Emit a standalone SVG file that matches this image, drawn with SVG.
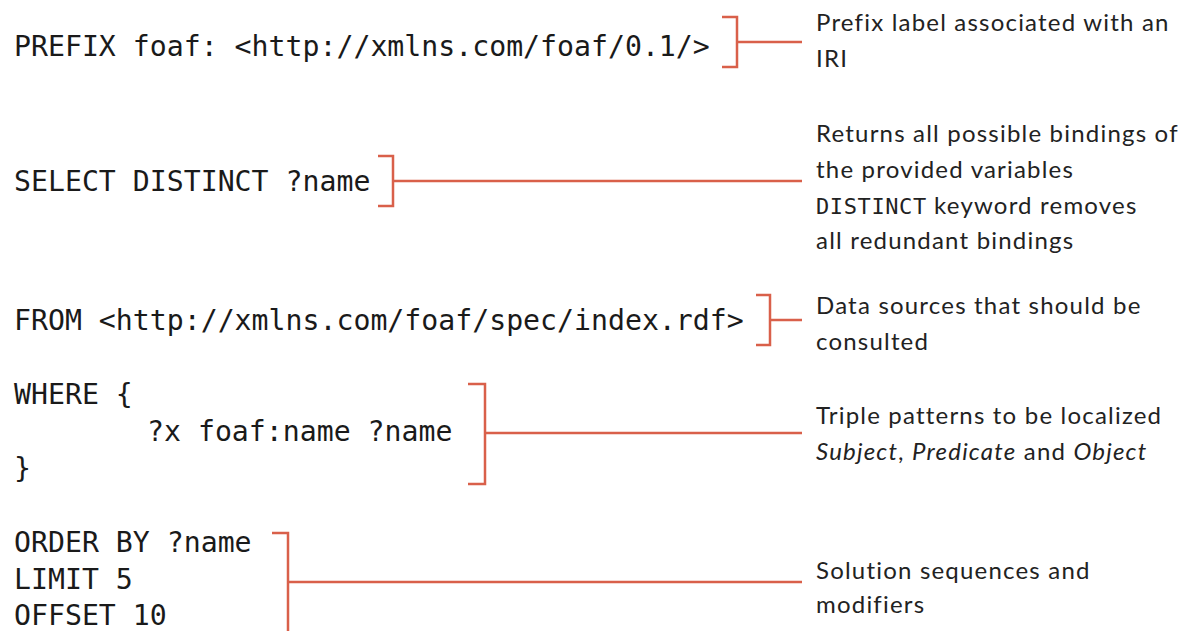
<svg xmlns="http://www.w3.org/2000/svg" width="1185" height="631" viewBox="0 0 1185 631">
  <style>
    .code { font-family: "DejaVu Sans Mono", "Liberation Mono", monospace; font-size: 28.2px; fill: #1a1a1a; }
    .note { font-family: Lato, "Open Sans", "Liberation Sans", sans-serif; font-size: 24px; letter-spacing: 1.2px; fill: #222; }
    .mono { font-family: "DejaVu Sans Mono", "Liberation Mono", monospace; font-size: 22px; letter-spacing: 0.6px; }
    .brace { fill: none; stroke: #d9604a; stroke-width: 2.5; }
  </style>
  <rect width="1185" height="631" fill="#fff"/>

  <!-- query clauses -->
  <g id="prefix">
    <text class="code" x="14" y="56">PREFIX foaf: &lt;http://xmlns.com/foaf/0.1/&gt;</text>
  </g>
  <g id="select">
    <text class="code" x="14" y="191">SELECT DISTINCT ?name</text>
  </g>
  <g id="from">
    <text class="code" x="14" y="330">FROM &lt;http://xmlns.com/foaf/spec/index.rdf&gt;</text>
  </g>
  <g id="where">
    <text class="code" x="14" y="404">WHERE {</text>
    <text class="code" x="147" y="441">?x foaf:name ?name</text>
    <text class="code" x="14" y="478">}</text>
  </g>
  <g id="modifiers">
    <text class="code" x="14" y="552">ORDER BY ?name</text>
    <text class="code" x="14" y="589">LIMIT 5</text>
    <text class="code" x="14" y="625">OFFSET 10</text>
  </g>

  <!-- explanations -->
  <g id="note-prefix">
    <text class="note" x="816" y="31">Prefix label associated with an</text>
    <text class="note" x="816" y="67">IRI</text>
  </g>
  <g id="note-select">
    <text class="note" x="816" y="142">Returns all possible bindings of</text>
    <text class="note" x="816" y="178">the provided variables</text>
    <text class="note" x="816" y="214"><tspan class="mono">DISTINCT</tspan> keyword removes</text>
    <text class="note" x="816" y="249">all redundant bindings</text>
  </g>
  <g id="note-from">
    <text class="note" x="816" y="314">Data sources that should be</text>
    <text class="note" x="816" y="350">consulted</text>
  </g>
  <g id="note-where">
    <text class="note" x="816" y="424">Triple patterns to be localized</text>
    <text class="note" x="816" y="460"><tspan font-style="italic">Subject</tspan>, <tspan font-style="italic">Predicate</tspan> and <tspan font-style="italic">Object</tspan></text>
  </g>
  <g id="note-modifiers">
    <text class="note" x="816" y="579">Solution sequences and</text>
    <text class="note" x="816" y="613">modifiers</text>
  </g>

  <!-- brackets with leader lines -->
  <g id="connectors">
    <path class="brace" d="M722,17 H737 V67 H722 M737,42 H802"/>
    <path class="brace" d="M378,156 H393 V206 H378 M393,181 H802"/>
    <path class="brace" d="M756,295 H770 V345 H756 M770,320 H802"/>
    <path class="brace" d="M468,384 H485 V484 H468 M485,433 H802"/>
    <path class="brace" d="M272,533 H288 V640 M288,582 H802"/>
  </g>
</svg>
